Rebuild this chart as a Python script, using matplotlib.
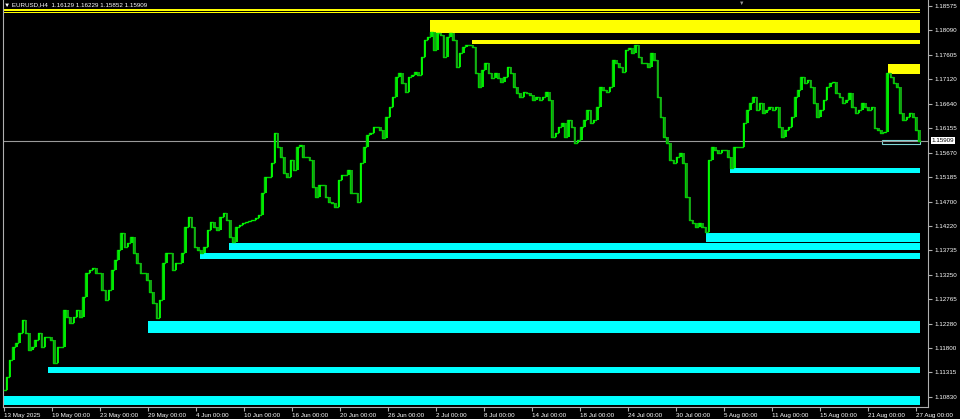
import numpy as np
import matplotlib.pyplot as plt
from matplotlib.patches import Rectangle

plt.rcParams['font.family'] = ['Liberation Sans', 'DejaVu Sans']

# EURUSD H4 closes (13 May 2025 -> 27 Aug 2025)
closes_a = [1.1097, 1.1123, 1.1156, 1.1182, 1.1190, 1.1210, 1.1235, 1.1210, 1.1176, 1.1182,
            1.1196, 1.1210, 1.1182, 1.1202, 1.1202, 1.1196, 1.1150, 1.1182, 1.1182, 1.1255,
            1.1241, 1.1230, 1.1241, 1.1255, 1.1241, 1.1281, 1.1329, 1.1335, 1.1339, 1.1329,
            1.1329, 1.1295, 1.1275, 1.1295, 1.1335, 1.1354, 1.1374, 1.1408, 1.1380, 1.1388,
            1.1400, 1.1368, 1.1348, 1.1329, 1.1329, 1.1315, 1.1291, 1.1269, 1.1239, 1.1275,
            1.1348, 1.1368, 1.1368, 1.1335, 1.1348, 1.1348, 1.1368, 1.1420, 1.1440, 1.1420,
            1.1380, 1.1374, 1.1368, 1.1380, 1.1414, 1.1430, 1.1420, 1.1414, 1.1440, 1.1448,
            1.1434, 1.1400, 1.1390, 1.1420, 1.1424]
closes_b = [1.1428, 1.1430, 1.1432, 1.1434, 1.1438, 1.1444, 1.1487, 1.1519, 1.1519, 1.1547,
            1.1606, 1.1578, 1.1558, 1.1527, 1.1519, 1.1552, 1.1533, 1.1578, 1.1582, 1.1558,
            1.1558, 1.1552, 1.1499, 1.1479, 1.1503, 1.1503, 1.1479, 1.1469, 1.1467, 1.1459,
            1.1513, 1.1523, 1.1523, 1.1533, 1.1487, 1.1487, 1.1469, 1.1547, 1.1578, 1.1602,
            1.1606, 1.1618, 1.1618, 1.1612, 1.1596, 1.1638, 1.1657, 1.1677, 1.1717, 1.1725,
            1.1705, 1.1687, 1.1717, 1.1721, 1.1727, 1.1721, 1.1757, 1.1790, 1.1796, 1.1806,
            1.1770, 1.1804, 1.1800, 1.1757, 1.1796, 1.1804, 1.1790, 1.1737, 1.1764, 1.1776,
            1.1780]
closes_c = [1.1780, 1.1776, 1.1725, 1.1697, 1.1731, 1.1745, 1.1725, 1.1715, 1.1725, 1.1715,
            1.1707, 1.1717, 1.1737, 1.1725, 1.1697, 1.1685, 1.1677, 1.1687, 1.1685, 1.1681,
            1.1671, 1.1677, 1.1671, 1.1677, 1.1687, 1.1671, 1.1598, 1.1606, 1.1618, 1.1626,
            1.1598, 1.1632, 1.1618, 1.1586, 1.1592, 1.1618, 1.1632, 1.1652, 1.1626, 1.1632,
            1.1657, 1.1697, 1.1691, 1.1687, 1.1697, 1.1751, 1.1745, 1.1737, 1.1727, 1.1770,
            1.1774, 1.1764, 1.1780, 1.1757, 1.1745, 1.1745, 1.1737, 1.1764, 1.1751, 1.1677,
            1.1638, 1.1598, 1.1586, 1.1552, 1.1547, 1.1558, 1.1566, 1.1547, 1.1479, 1.1434,
            1.1428, 1.1420, 1.1428]
closes_d = [1.1420, 1.1410, 1.1552, 1.1578, 1.1572, 1.1566, 1.1572, 1.1572, 1.1558, 1.1537,
            1.1578, 1.1578, 1.1578, 1.1626, 1.1652, 1.1665, 1.1677, 1.1652, 1.1665, 1.1646,
            1.1652, 1.1657, 1.1652, 1.1657, 1.1618, 1.1598, 1.1612, 1.1618, 1.1638, 1.1677,
            1.1691, 1.1717, 1.1705, 1.1711, 1.1697, 1.1665, 1.1638, 1.1652, 1.1671, 1.1697,
            1.1705, 1.1707, 1.1685, 1.1677, 1.1665, 1.1671, 1.1685, 1.1657, 1.1646, 1.1652,
            1.1665, 1.1657, 1.1652, 1.1657, 1.1616, 1.1612, 1.1606, 1.1608, 1.1725, 1.1717,
            1.1705, 1.1697, 1.1646, 1.1632, 1.1638, 1.1646, 1.1638, 1.1612, 1.15909]
closes = closes_a + closes_b + closes_c + closes_d

# supply / demand zones: start bar, top, bottom
yellow_start = [-2, -2, 213, 234, 442]
yellow_top = [1.1852, 1.1846, 1.1830, 1.1790, 1.1743]
yellow_bot = [1.1848, 1.1843, 1.1804, 1.1782, 1.1723]

cyan_start = [363, 351, 112.5, 98, 72, 22, 0]
cyan_top = [1.1537, 1.1408, 1.1388, 1.1368, 1.1234, 1.1142, 1.1085]
cyan_bot = [1.1527, 1.1390, 1.1374, 1.1357, 1.1210, 1.1130, 1.1067]
zone_end = 458

date_labels = ['13 May 2025', '19 May 00:00', '23 May 00:00', '29 May 00:00', '4 Jun 00:00',
               '10 Jun 00:00', '16 Jun 00:00', '20 Jun 00:00', '26 Jun 00:00', '2 Jul 00:00',
               '8 Jul 00:00', '14 Jul 00:00', '18 Jul 00:00', '24 Jul 00:00', '30 Jul 00:00',
               '5 Aug 00:00', '11 Aug 00:00', '15 Aug 00:00', '21 Aug 00:00', '27 Aug 00:00']
price_ticks = [1.18575, 1.18090, 1.17605, 1.17120, 1.16640, 1.16155, 1.15670, 1.15185,
               1.14700, 1.14220, 1.13735, 1.13250, 1.12765, 1.12280, 1.11800, 1.11315, 1.10830]
last_price = 1.15909
header = '▼ EURUSD,H4  1.16129 1.16229 1.15852 1.15909'

FS = 4.5

fig = plt.figure(figsize=(9.6, 4.19), dpi=100, facecolor='black')
ax = fig.add_axes([3 / 960, 12 / 419, 925 / 960, 407 / 419], facecolor='black')
ax.set_xlim(-0.5, 462)
ax.set_ylim(1.10631, 1.18694)

# zones
for s, t, b in zip(yellow_start, yellow_top, yellow_bot):
    ax.add_patch(Rectangle((s, b), zone_end - s, t - b, facecolor='#ffff00', edgecolor='none', zorder=1))
for s, t, b in zip(cyan_start, cyan_top, cyan_bot):
    ax.add_patch(Rectangle((s, b), zone_end - s, t - b, facecolor='#00ffff', edgecolor='none', zorder=1))
ax.add_patch(Rectangle((439, 1.1584), zone_end - 439, 1.1592 - 1.1584, facecolor='none',
                       edgecolor='#7fd8d8', lw=0.8, zorder=1))

# bid line
ax.axhline(last_price, color='#9a9a9a', lw=0.8, zorder=2)

# price bars
x = np.linspace(0, 458, len(closes))
c = np.array(closes)
opens = np.r_[c[0], c[:-1]]
ax.plot(x, c, drawstyle='steps-mid', color='#00d000', lw=1.0, zorder=3)
up = c >= opens
ax.vlines(x[up], opens[up], c[up], color='#00ff00', lw=1.3, zorder=4)
ax.vlines(x[~up], c[~up], opens[~up], color='#14b014', lw=1.3, zorder=4)

# axes styling (MT4 look)
ax.spines['top'].set_visible(False)
for side in ['left', 'right', 'bottom']:
    ax.spines[side].set_color('#b0b0b0')
    ax.spines[side].set_linewidth(0.8)

ax.yaxis.tick_right()
ax.set_yticks(price_ticks)
ax.set_yticklabels([f'{p:.5f}' for p in price_ticks])
ax.tick_params(axis='y', colors='#b0b0b0', labelcolor='white', length=3, width=0.8,
               pad=2, labelsize=FS)

ax.set_xticks(np.arange(len(date_labels)) * 24)
ax.set_xticklabels(date_labels)
ax.tick_params(axis='x', colors='#b0b0b0', labelcolor='white', length=3, width=0.8,
               pad=1, labelsize=FS)
for lbl in ax.get_xticklabels():
    lbl.set_ha('left')

# last price label
ax.text(1.004, last_price, f'{last_price:.5f}', transform=ax.get_yaxis_transform(),
        ha='left', va='center', fontsize=FS, color='black',
        bbox=dict(facecolor='white', edgecolor='none', pad=0.8), clip_on=False)

fig.text(4 / 960, 1 - 5 / 419, header, color='white', fontsize=FS, va='center', ha='left')
fig.text(742 / 960, 1 - 3 / 419, '▼', color='#9a9a9a', fontsize=4, va='center', ha='center')

fig.savefig('out.png', dpi=100, facecolor='black')
